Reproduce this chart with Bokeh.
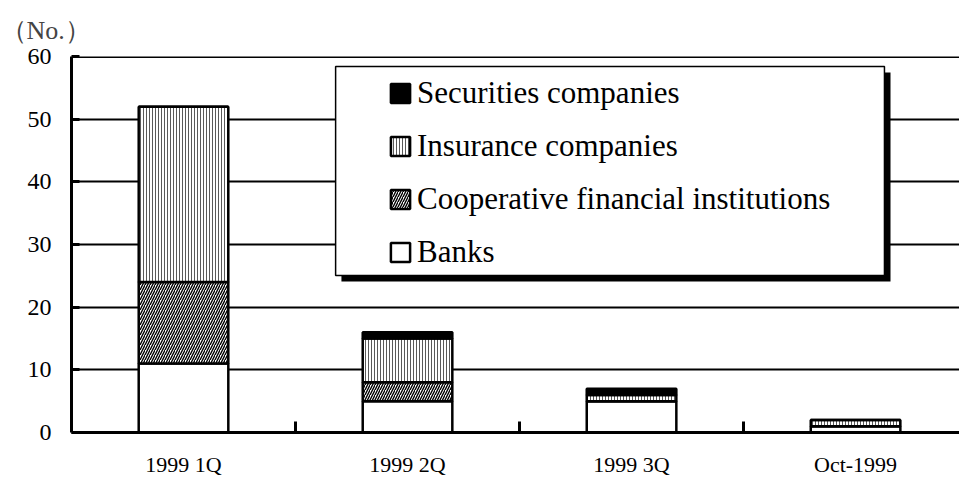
from bokeh.plotting import figure
from bokeh.models import (Range1d, FixedTicker, CustomJSTickFormatter, Legend, LegendItem,
                          BoxAnnotation, Span)
from bokeh.embed import file_html
from bokeh.resources import INLINE

# ---- data ----
categories = ["1999 1Q", "1999 2Q", "1999 3Q", "Oct-1999"]
banks = [11, 5, 5, 1]
cooperative = [13, 3, 0, 0]
insurance = [28, 7, 1, 1]
securities = [0, 1, 1, 0]
series_keys = ["banks", "cooperative", "insurance", "securities"]
series_names = ["Banks", "Cooperative financial institutions",
                "Insurance companies", "Securities companies"]
y_ticks = [0, 10, 20, 30, 40, 50, 60]
unit_label = "（No.）"

x = [i + 0.5 for i in range(len(categories))]
boundaries = [i for i in range(1, len(categories))]

FONT = "Liberation Serif"

p = figure(width=959, height=487,
           x_range=Range1d(0, 3.964), y_range=Range1d(0, 60),
           output_backend="svg", toolbar_location=None,
           min_border_left=71, min_border_right=0,
           min_border_top=56, min_border_bottom=55)
p.outline_line_color = None
p.background_fill_color = "white"
p.border_fill_color = "white"

p.title.text = unit_label
p.title.align = "left"
p.title.offset = -71
p.title.text_font = FONT
p.title.text_font_size = "26px"
p.title.text_font_style = "normal"
p.title.standoff = 24

source = dict(x=x, banks=banks, cooperative=cooperative,
              insurance=insurance, securities=securities)

renderers = p.vbar_stack(
    series_keys, x="x", width=0.4, source=source,
    fill_color=["white", "white", "white", "black"],
    hatch_pattern=[" ", "/", "|", " "],
    hatch_color=["black", "black", "#5a5a5a", "black"],
    hatch_scale=[12, 5, 3, 12],
    hatch_weight=[1, 1.4, 1, 1],
    line_color="black", line_width=2.5)

# axes
p.yaxis.ticker = FixedTicker(ticks=y_ticks)
p.ygrid.ticker = FixedTicker(ticks=y_ticks)
p.ygrid.grid_line_color = "black"
p.ygrid.grid_line_width = 2
p.xgrid.visible = False

for ax in (p.xaxis[0], p.yaxis[0]):
    ax.axis_line_color = "black"
    ax.axis_line_width = 3
    ax.major_label_text_font = FONT
    ax.major_label_text_color = "black"

p.yaxis.major_label_text_font_size = "24px"
p.yaxis.major_tick_in = 8
p.yaxis.major_tick_out = 0
p.yaxis.major_tick_line_width = 3
p.yaxis.major_tick_line_color = "black"
p.yaxis.minor_tick_line_color = None
p.yaxis.minor_tick_in = 0
p.yaxis.minor_tick_out = 0
p.yaxis.major_label_standoff = 20

p.xaxis.ticker = FixedTicker(ticks=x, minor_ticks=boundaries)
p.xaxis.formatter = CustomJSTickFormatter(args=dict(labels=categories),
                                          code="return labels[Math.floor(tick)];")
p.xaxis.major_label_text_font_size = "22px"
p.xaxis.major_tick_line_color = None
p.xaxis.major_tick_in = 0
p.xaxis.major_tick_out = 0
p.xaxis.minor_tick_line_color = "black"
p.xaxis.minor_tick_line_width = 3
p.xaxis.minor_tick_in = 11
p.xaxis.minor_tick_out = 0
p.xaxis.major_label_standoff = 19

top_line = Span(location=60, dimension="width", line_color="black", line_width=3)
p.add_layout(top_line)

# legend box with shadow
shadow = BoxAnnotation(left=1.205, right=3.656, top=57.44, bottom=24.1,
                       fill_color="black", fill_alpha=1, line_color=None)
box = BoxAnnotation(left=1.179, right=3.629, top=58.4, bottom=25.05,
                    fill_color="white", fill_alpha=1,
                    line_color="black", line_width=1.5, line_alpha=1)
p.add_layout(shadow)
p.add_layout(box)

items = [LegendItem(label=n, renderers=[r])
         for n, r in reversed(list(zip(series_names, renderers)))]
legend = Legend(items=items, location=(317, 155), orientation="vertical",
                padding=0, margin=0, spacing=3,
                glyph_width=24, glyph_height=24,
                label_height=50, label_standoff=5,
                label_text_font=FONT, label_text_font_size="31px",
                label_text_color="black",
                border_line_color=None, background_fill_color=None)
p.add_layout(legend)

open("out.html", "w").write(file_html(p, INLINE))
